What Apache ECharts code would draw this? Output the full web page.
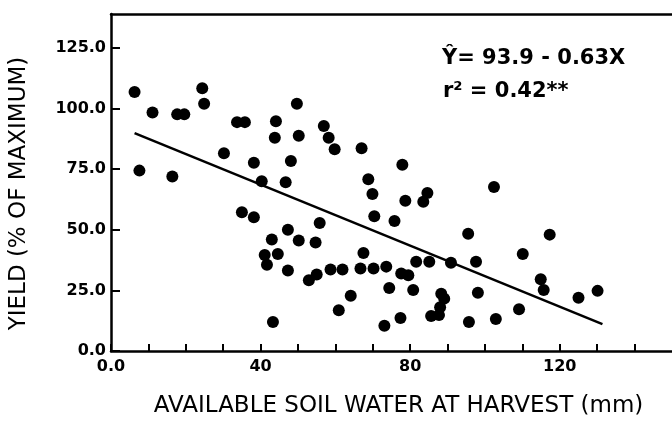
<!DOCTYPE html>
<html>
<head>
<meta charset="utf-8">
<script src="https://cdn.jsdelivr.net/npm/echarts@6/dist/echarts.min.js"></script>
<style>
  html, body { margin: 0; padding: 0; background: #fff; }
  #chart { width: 672px; height: 423px; }
</style>
</head>
<body>
<div id="chart"></div>
<script>
// available soil water at harvest (mm) and yield (% of maximum)
const waterMm = [
  6.3, 11.1, 17.7, 19.6, 24.4, 24.9, 33.7, 35.8, 44.1, 43.8,
  49.7, 50.2, 30.2, 38.2, 48.1, 40.3, 46.7, 7.6, 16.4, 56.9,
  58.2, 59.8, 67.0, 77.9, 68.8, 69.9, 78.7, 84.6, 83.5, 102.4,
  35.0, 38.2, 47.3, 43.0, 50.2, 41.1, 44.6, 41.7, 47.3, 43.3,
  70.4, 75.8, 55.8, 54.7, 67.5, 52.9, 55.0, 58.7, 61.9, 66.7,
  70.2, 73.6, 77.6, 79.5, 81.6, 85.1, 90.9, 97.6, 74.4, 80.8,
  64.1, 88.3, 89.1, 98.1, 60.9, 88.0, 87.7, 85.6, 77.4, 73.1,
  95.7, 95.5, 117.3, 110.1, 114.9, 115.7, 125.0, 130.1, 109.1, 102.9
];
const yieldPct = [
  106.8, 98.4, 97.6, 97.6, 108.4, 102.0, 94.4, 94.4, 94.8, 88.0,
  102.0, 88.8, 81.6, 77.6, 78.4, 70.0, 69.6, 74.4, 72.0, 92.8,
  88.0, 83.2, 83.6, 76.8, 70.8, 64.8, 62.0, 65.2, 61.6, 67.6,
  57.2, 55.2, 50.0, 46.0, 45.6, 39.6, 40.0, 35.6, 33.2, 12.0,
  55.6, 53.6, 52.8, 44.8, 40.4, 29.2, 31.6, 33.6, 33.6, 34.0,
  34.0, 34.8, 32.0, 31.2, 36.8, 36.8, 36.4, 36.8, 26.0, 25.2,
  22.8, 23.6, 21.6, 24.0, 16.8, 18.0, 14.8, 14.4, 13.6, 10.4,
  12.0, 48.4, 48.0, 40.0, 29.6, 25.2, 22.0, 24.8, 17.2, 13.2
];

// ends of the fitted line  Y = 93.9 - 0.63 X
const fitX = [6.3, 131.4];
const fitY = [89.9, 11.1];

const xLabelValues = [0, 40, 80, 120];
const xLabelText = ["0.0", "40", "80", "120"];
const yLabelValues = [0, 25, 50, 75, 100, 125];
const yLabelText = ["0.0", "25.0", "50.0", "75.0", "100.0", "125.0"];

const eqLine = "Ŷ= 93.9 - 0.63X";
const r2Line = "r² = 0.42**";

const chart = echarts.init(document.getElementById("chart"));

const ink = "#000";
const font = "DejaVu Sans";

chart.setOption({
  animation: false,
  grid: { left: 108, right: 0, top: 14, bottom: 60 },
  xAxis: [
    {
      type: "value",
      min: 0, max: 150, interval: 10,
      name: "AVAILABLE SOIL WATER AT HARVEST (mm)",
      nameLocation: "middle",
      nameGap: 44,
      nameTextStyle: { color: ink, fontFamily: font, fontSize: 23, padding: [0, 0, 0, 14] },
      axisLine: { lineStyle: { color: ink, width: 2.5 } },
      axisTick: { inside: true, length: 7, lineStyle: { color: ink, width: 2 } },
      axisLabel: {
        color: ink, fontFamily: font, fontWeight: "bold", fontSize: 16, margin: 8,
        showMaxLabel: false,
        formatter: v => {
          const i = xLabelValues.indexOf(v);
          return i >= 0 ? xLabelText[i] : "";
        }
      },
      splitLine: { show: false }
    },
    {
      // top frame line only
      type: "value", position: "top",
      min: 0, max: 150,
      axisLine: { lineStyle: { color: ink, width: 2.5 } },
      axisTick: { show: false },
      axisLabel: { show: false },
      splitLine: { show: false }
    }
  ],
  yAxis: {
    type: "value",
    min: 0, max: 139, interval: 25,
    name: "YIELD (% OF MAXIMUM)",
    nameLocation: "middle",
    nameGap: 80,
    nameTextStyle: { color: ink, fontFamily: font, fontSize: 23, padding: [0, 22, 0, 0] },
    axisLine: { lineStyle: { color: ink, width: 2.5 } },
    axisTick: { inside: true, length: 9, lineStyle: { color: ink, width: 2 } },
    axisLabel: {
      color: ink, fontFamily: font, fontWeight: "bold", fontSize: 16, margin: 5,
      showMaxLabel: false,
      formatter: v => {
        const i = yLabelValues.indexOf(v);
        return i >= 0 ? yLabelText[i] : "";
      }
    },
    splitLine: { show: false }
  },
  series: [
    {
      type: "scatter",
      data: waterMm.map((x, i) => [x, yieldPct[i]]),
      symbol: "circle",
      symbolSize: 12,
      itemStyle: { color: ink, opacity: 1 }
    },
    {
      type: "line",
      data: fitX.map((x, i) => [x, fitY[i]]),
      showSymbol: false,
      lineStyle: { color: ink, width: 2.5 }
    }
  ],
  graphic: [
    {
      type: "text", left: 442, top: 48,
      style: { text: eqLine, fill: ink, font: "bold 21px " + font }
    },
    {
      type: "text", left: 443, top: 81,
      style: { text: r2Line, fill: ink, font: "bold 21px " + font }
    }
  ]
});
</script>
</body>
</html>
